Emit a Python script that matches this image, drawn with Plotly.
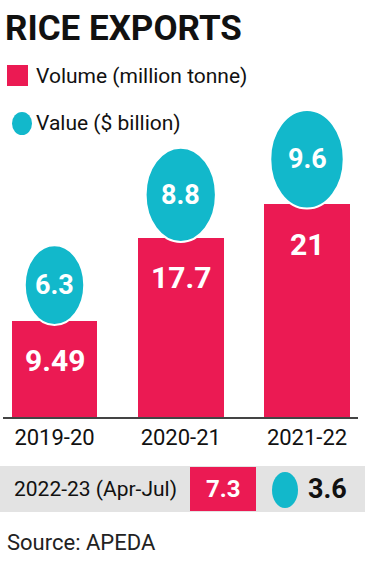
import numpy as np
import plotly.graph_objects as go

# ---- data ----
years = ["2019-20", "2020-21", "2021-22"]
volume = [9.49, 17.7, 21]          # million tonne
value = [6.3, 8.8, 9.6]            # $ billion
recent_label = "2022-23 (Apr-Jul)"
recent_volume = 7.3
recent_value = 3.6
title = "RICE EXPORTS"
legend_volume = "Volume (million tonne)"
legend_value = "Value ($ billion)"
source = "Source: APEDA"

RED = "#EB1A53"
CYAN = "#12B8CB"
GRAY = "#E3E3E3"
FONT = "Roboto, Liberation Sans, sans-serif"

W, H = 374, 561
def px(x): return x / W
def py(y): return 1 - y / H

# axis geometry (pixels)
X_PX_PER_UNIT = 126.25
Y_PX_PER_UNIT = 10.12
x_left_px, x_right_px = 3, 358
base_px, top_px = 417, 100
x0_first = 54.5
xr = [(x_left_px - x0_first) / X_PX_PER_UNIT, (x_right_px - x0_first) / X_PX_PER_UNIT]
yr = [0, (base_px - top_px) / Y_PX_PER_UNIT]

fig = go.Figure()
fig.add_trace(go.Bar(
    x=list(range(len(years))), y=volume, width=0.68,
    marker=dict(color=RED, line=dict(width=0)),
    hoverinfo="skip", showlegend=False,
))

shapes = []
annotations = []

# value circles (area ~ value), drawn as shapes in data coordinates
for i, (vol, val) in enumerate(zip(volume, value)):
    w_px = 23.7 * np.sqrt(val)
    h_px = w_px * 1.34
    half_w = w_px / 2 / X_PX_PER_UNIT
    y0 = vol - 4 / Y_PX_PER_UNIT
    y1 = y0 + h_px / Y_PX_PER_UNIT
    shapes.append(dict(type="circle", xref="x", yref="y",
                       x0=i - half_w, x1=i + half_w, y0=y0, y1=y1,
                       fillcolor=CYAN, line=dict(color="white", width=2), layer="above"))
    annotations.append(dict(x=i, y=(y0 + y1) / 2, xref="x", yref="y",
                            text=f"<b>{val}</b>", showarrow=False,
                            font=dict(family=FONT, size=27, color="white"),
                            yanchor="middle", xanchor="center"))
    annotations.append(dict(x=i, y=vol, xref="x", yref="y", yshift=-40,
                            text=f"<b>{vol:g}</b>", showarrow=False,
                            font=dict(family=FONT, size=30, color="white"),
                            yanchor="middle", xanchor="center"))

# title
annotations.append(dict(x=px(3), y=py(28), xref="paper", yref="paper",
                        text=f"<b>{title}</b>", showarrow=False,
                        font=dict(family=FONT, size=35, color="#111111"),
                        xanchor="left", yanchor="middle"))
# legend
shapes.append(dict(type="rect", xref="paper", yref="paper",
                   x0=px(7), x1=px(28), y0=py(86), y1=py(65),
                   fillcolor=RED, line=dict(width=0)))
annotations.append(dict(x=px(34), y=py(76), xref="paper", yref="paper",
                        text=legend_volume, showarrow=False,
                        font=dict(family=FONT, size=21, color="#111111"),
                        xanchor="left", yanchor="middle"))
shapes.append(dict(type="circle", xref="paper", yref="paper",
                   x0=px(12), x1=px(32), y0=py(135), y1=py(112),
                   fillcolor=CYAN, line=dict(width=0)))
annotations.append(dict(x=px(34), y=py(123), xref="paper", yref="paper",
                        text=legend_value, showarrow=False,
                        font=dict(family=FONT, size=21, color="#111111"),
                        xanchor="left", yanchor="middle"))

# bottom row
shapes.append(dict(type="rect", xref="paper", yref="paper",
                   x0=0, x1=px(365), y0=py(512), y1=py(466),
                   fillcolor=GRAY, line=dict(width=0), layer="below"))
annotations.append(dict(x=px(12), y=py(489), xref="paper", yref="paper",
                        text=recent_label, showarrow=False,
                        font=dict(family=FONT, size=21, color="#111111"),
                        xanchor="left", yanchor="middle"))
shapes.append(dict(type="rect", xref="paper", yref="paper",
                   x0=px(190), x1=px(256), y0=py(511), y1=py(467),
                   fillcolor=RED, line=dict(width=0)))
annotations.append(dict(x=px(223), y=py(489), xref="paper", yref="paper",
                        text=f"<b>{recent_volume}</b>", showarrow=False,
                        font=dict(family=FONT, size=24, color="white"),
                        xanchor="center", yanchor="middle"))
shapes.append(dict(type="circle", xref="paper", yref="paper",
                   x0=px(272), x1=px(298), y0=py(508), y1=py(472),
                   fillcolor=CYAN, line=dict(width=0)))
annotations.append(dict(x=px(306), y=py(489), xref="paper", yref="paper",
                        text=f"<b>{recent_value}</b>", showarrow=False,
                        font=dict(family=FONT, size=27, color="#111111"),
                        xanchor="left", yanchor="middle"))
# source
annotations.append(dict(x=px(5), y=py(542), xref="paper", yref="paper",
                        text=source, showarrow=False,
                        font=dict(family=FONT, size=22, color="#222222"),
                        xanchor="left", yanchor="middle"))

fig.update_layout(
    width=W, height=H,
    margin=dict(l=0, r=0, t=0, b=0),
    paper_bgcolor="white", plot_bgcolor="white",
    xaxis=dict(domain=[px(x_left_px), px(x_right_px)], range=xr,
               tickmode="array", tickvals=list(range(len(years))), ticktext=years,
               showgrid=False, zeroline=False, showline=True, linecolor="#444444", linewidth=1.5,
               ticks="", tickfont=dict(family=FONT, size=22, color="#111111"),
               fixedrange=True),
    yaxis=dict(domain=[py(base_px), py(top_px)], range=yr, visible=False, fixedrange=True),
    shapes=shapes, annotations=annotations,
    bargap=0, showlegend=False,
)

fig.write_html("out.html", config={"displayModeBar": False},
               post_script=("document.documentElement.style.margin='0';"
                            "document.documentElement.style.overflow='hidden';"
                            "document.body.style.margin='0';"
                            "document.body.style.overflow='hidden';"))
